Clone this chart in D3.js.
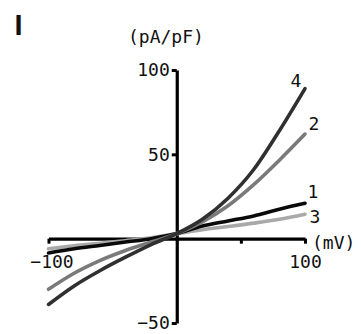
<!DOCTYPE html>
<html>
<head>
<meta charset="utf-8">
<script src="https://cdn.jsdelivr.net/npm/d3@7"></script>
<style>
  body { margin: 0; background: #fff; }
  text { font-family: "DejaVu Sans Mono", monospace; font-size: 18px; fill: #111; }
</style>
</head>
<body>
<div id="chart"></div>
<script>
// membrane potential (mV) sample points
const voltages = [-100, -80, -60, -40, -20, 0, 20, 40, 60, 80, 100];

// current density (pA/pF) per trace
const trace1 = [-8.5, -6, -4, -2, 0, 3, 7.5, 10.5, 13.5, 17.5, 21];
const trace2 = [-30, -20.5, -13, -7, -2, 3, 10, 19.5, 32, 46.5, 62];
const trace3 = [-6, -4.2, -2.7, -1.2, 0.5, 3, 5.3, 7.2, 9.2, 11.5, 14.5];
const trace4 = [-39, -28, -19, -11, -3.5, 3, 11.5, 24, 41, 64, 89];

const traceNames = ['3', '1', '2', '4'];
const traceValues = [trace3, trace1, trace2, trace4];
const traceColors = ['#a9a9a9', '#0a0a0a', '#7a7a7a', '#303030'];

const xTicks = [-100, 50, 100];
const yTicks = [-50, 50, 100];

const width = 361, height = 334;

const svg = d3.select('#chart').append('svg')
    .attr('width', width)
    .attr('height', height);

const x = d3.scaleLinear().domain([-100, 100]).range([48.5, 305]);
const y = d3.scaleLinear().domain([-50, 100]).range([323, 70]);

// x axis across zero
const xAxis = d3.axisBottom(x)
    .tickValues(xTicks)
    .tickSize(5)
    .tickSizeOuter(0)
    .tickPadding(12)
    .tickFormat(d => (d === 50 ? '' : d3.format('d')(d).replace('-', '\u2212')));

const gx = svg.append('g')
    .attr('transform', `translate(0,${y(0)})`)
    .call(xAxis);

// y axis across zero
const yAxis = d3.axisLeft(y)
    .tickValues(yTicks)
    .tickSize(5)
    .tickSizeOuter(0)
    .tickPadding(2)
    .tickFormat(d => d3.format('d')(d).replace('-', '\u2212'));

const gy = svg.append('g')
    .attr('transform', `translate(${x(0)},0)`)
    .call(yAxis);

[gx, gy].forEach(g => {
    g.select('.domain').attr('stroke', '#000').attr('stroke-width', 3.2);
    g.selectAll('.tick line').attr('stroke', '#000').attr('stroke-width', 3);
    g.selectAll('.tick text')
        .attr('fill', '#111')
        .style('font-family', '"DejaVu Sans Mono", monospace')
        .style('font-size', '18px');
});

// nudge the -100 label a little right like the figure
gx.selectAll('.tick text').filter(d => d === -100).attr('dx', 3);

const line = d3.line()
    .x((d, i) => x(voltages[i]))
    .y(d => y(d))
    .curve(d3.curveMonotoneX);

svg.append('g').selectAll('path')
    .data(traceValues)
    .join('path')
    .attr('d', d => line(d))
    .attr('fill', 'none')
    .attr('stroke', (d, i) => traceColors[i])
    .attr('stroke-width', 3.6)
    .attr('stroke-linecap', 'round');

// trace numbers near the right ends
const labelPos = { '4': [296, 86.5], '2': [314, 130], '1': [313, 198], '3': [315, 223] };
svg.append('g').selectAll('text')
    .data(traceNames)
    .join('text')
    .attr('x', d => labelPos[d][0])
    .attr('y', d => labelPos[d][1])
    .attr('text-anchor', 'middle')
    .text(d => d);

svg.append('text')
    .attr('x', 128)
    .attr('y', 43)
    .text('(pA/pF)');

svg.append('text')
    .attr('x', 312)
    .attr('y', 249)
    .text('(mV)');

// panel letter
svg.append('text')
    .attr('x', 14.5)
    .attr('y', 35)
    .style('font-family', '"Liberation Sans", Arial, sans-serif')
    .style('font-weight', 'bold')
    .style('font-size', '29px')
    .text('I');
</script>
</body>
</html>
